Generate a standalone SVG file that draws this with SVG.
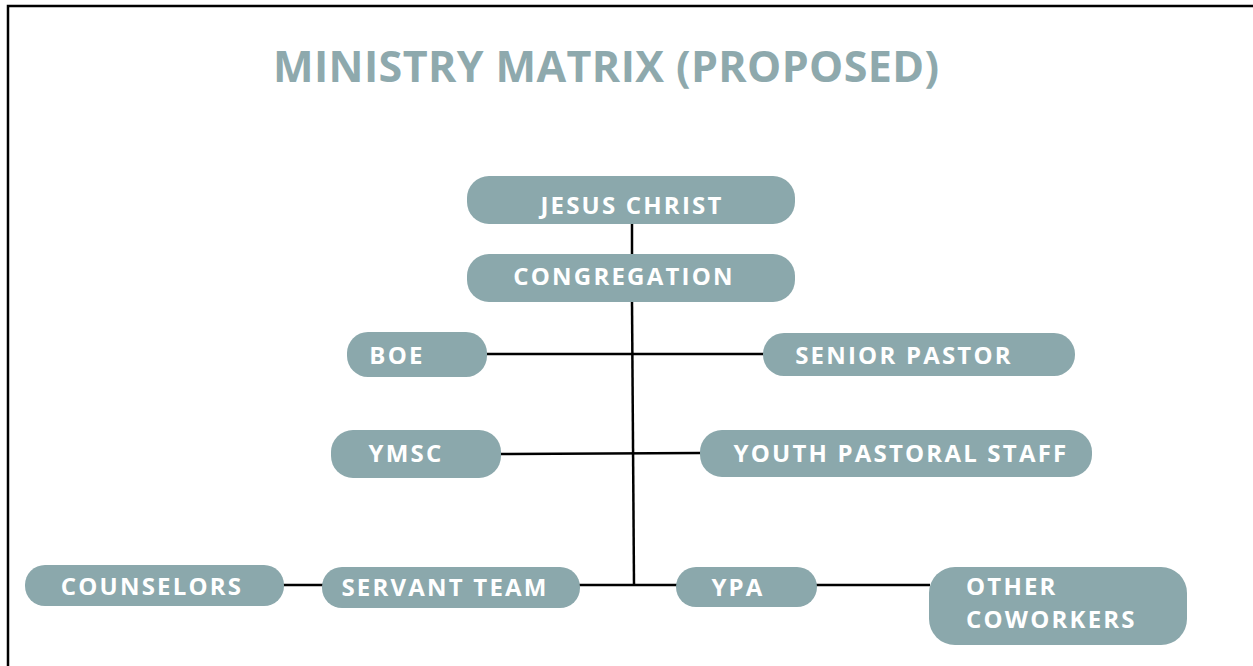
<svg xmlns="http://www.w3.org/2000/svg" width="1253" height="666" viewBox="0 0 1253 666">
<style>
.node rect{fill:#8ba8ac}
.node text{fill:#ffffff;font-family:"Open Sans","Liberation Sans",sans-serif;font-weight:700;font-size:24px;letter-spacing:2.2px;text-anchor:middle}
.conn line{stroke:#000;stroke-width:2.5}
.title{fill:#8ea9ad;font-family:"Open Sans","Liberation Sans",sans-serif;font-weight:700;font-size:43px;letter-spacing:0.4px}
</style>
<rect width="1253" height="666" fill="#fff"/>
<path d="M8 666 V6 H1253" fill="none" stroke="#000" stroke-width="2.5"/>
<text class="title" x="273" y="82">MINISTRY MATRIX (PROPOSED)</text>
<g id="connectors" class="conn">
<line x1="632" y1="224" x2="632" y2="254"/>
<line x1="632" y1="302" x2="634" y2="585"/>
<line x1="486" y1="354" x2="764" y2="354"/>
<line x1="500" y1="454" x2="701" y2="453"/>
<line x1="283" y1="585" x2="323" y2="585"/>
<line x1="579" y1="585" x2="677" y2="585"/>
<line x1="816" y1="585" x2="930" y2="585"/>
</g>
<g id="jesus" class="node"><rect x="467" y="176" width="328" height="48" rx="22"/><text x="632" y="214">JESUS CHRIST</text></g>
<g id="congregation" class="node"><rect x="467" y="254" width="328" height="48" rx="22"/><text x="624" y="285">CONGREGATION</text></g>
<g id="boe" class="node"><rect x="347" y="332" width="140" height="45" rx="21"/><text x="397" y="364">BOE</text></g>
<g id="senior" class="node"><rect x="763" y="333" width="312" height="43" rx="21"/><text x="904" y="364">SENIOR PASTOR</text></g>
<g id="ymsc" class="node"><rect x="331" y="430" width="170" height="48" rx="22"/><text x="406" y="462">YMSC</text></g>
<g id="yps" class="node"><rect x="700" y="430" width="392" height="47" rx="22"/><text x="901" y="462">YOUTH PASTORAL STAFF</text></g>
<g id="counselors" class="node"><rect x="25" y="565" width="259" height="41" rx="20"/><text x="152" y="595">COUNSELORS</text></g>
<g id="servant" class="node"><rect x="322" y="567" width="258" height="41" rx="20"/><text x="445" y="596">SERVANT TEAM</text></g>
<g id="ypa" class="node"><rect x="676" y="567" width="141" height="40" rx="20"/><text x="738" y="596">YPA</text></g>
<g id="other" class="node"><rect x="929" y="567" width="258" height="78" rx="26"/><text x="966" y="595" style="text-anchor:start"><tspan x="966" y="595">OTHER</tspan><tspan x="966" y="628">COWORKERS</tspan></text></g>
</svg>
